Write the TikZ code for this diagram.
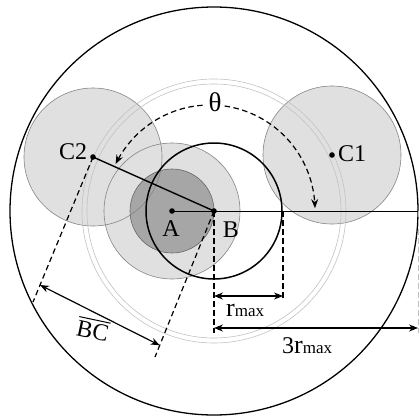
\documentclass[tikz,border=0pt]{standalone}
\usepackage{fontspec}
\setmainfont{Liberation Serif}
\usetikzlibrary{arrows.meta,calc}
\begin{document}
\begin{tikzpicture}[x=1pt,y=-1pt,
  lightfill/.style={fill=black!12},
  darkfill/.style={fill=black!35},
  diskline/.style={draw=black!48, line width=0.6pt},
  ringline/.style={draw=black!24, line width=0.6pt},
  dimdash/.style={line width=1.2pt, dash pattern=on 5.5pt off 3.5pt},
  dimarrow/.style={line width=1.2pt, {Stealth[length=9pt,width=7pt]}-{Stealth[length=9pt,width=7pt]}},
  thetaarc/.style={line width=1.2pt, dash pattern=on 5.5pt off 3.5pt, -{Stealth[length=9pt,width=7pt]}},
  lbl/.style={inner sep=0pt, font=\fontsize{24}{24}\selectfont},
  dot/.style={fill=black}]
\useasboundingbox (0,0) rectangle (419,420);
% points
\coordinate (A) at (172,211);
\coordinate (B) at (214,211);
\coordinate (C1) at (332,155);
\coordinate (C2) at (93,157);
\coordinate (E) at (418,211);
\coordinate (R1) at (283,211);
% disk fills
\fill[lightfill] (C2) circle (69);
\fill[lightfill] (C1) circle (69);
\fill[lightfill] (A) circle (68);
\fill[darkfill] (A) circle (42);
% disk outlines
\draw[diskline] (C2) circle (69);
\draw[diskline] (C1) circle (69);
\draw[diskline] (A) circle (68);
\draw[diskline, draw=black!60] (A) circle (42);
% ring of candidate positions
\draw[ringline] (B) circle (127);
\draw[ringline] (B) circle (132);
% outer circle and r_max circle
\draw[line width=1.3pt] (B) circle (204);
\draw[line width=1.5pt] (B) circle (68);
% lines
\draw[line width=0.8pt] (A) -- (E);
\draw[line width=1.4pt] (C2) -- (B);
% BC dimension
\coordinate (Bd) at (155,357);
\coordinate (C2d) at (33,302);
\draw[dimdash] (B) -- (Bd);
\draw[dimdash] (C2) -- (C2d);
\coordinate (bcL) at ($(C2)!0.883!(C2d)$);
\coordinate (bcR) at ($(B)!0.92!(Bd)$);
\draw[dimarrow] (bcL) -- (bcR);
\node[lbl, rotate=-12] (bc) at (93,329) {\vbox{\hrule height 1pt\kern2.5pt\hbox{BC}}};
% r_max and 3 r_max dimensions
\coordinate (Bv) at (214,333);
\coordinate (R1v) at (283,300);
\coordinate (Ev) at (418,333);
\draw[dimdash] (B) -- (Bv);
\draw[dimdash] (R1) -- (R1v);
\draw[dimdash, draw=black!25, line width=0.7pt] (E) -- (Ev);
\coordinate (rL) at (214,296);
\coordinate (rR) at (283,296);
\coordinate (tL) at (214,328);
\coordinate (tR) at (418,328);
\draw[dimarrow] (rL) -- (rR);
\draw[dimarrow] (tL) -- (tR);
\node[lbl, anchor=base west] (rmax) at (226,316) {\fontsize{26}{26}\selectfont r\fontsize{17}{17}\selectfont max};
\node[lbl, anchor=base west] (trmax) at (282,353) {3\fontsize{26}{26}\selectfont r\fontsize{17}{17}\selectfont max};
% theta arcs
\node[lbl, font=\fontsize{27}{27}\selectfont] (theta) at (215,102) {θ};
\draw[thetaarc] plot[domain=-82:-1, samples=50] ({210+105*cos(\x)},{210+105*sin(\x)});
\draw[thetaarc] plot[domain=-94:-154, samples=50] ({210+105*cos(\x)},{210+105*sin(\x)});
% dots and labels
\fill[dot] (A) circle (2.8);
\fill[dot] (B) circle (2.8);
\fill[dot] (C1) circle (2.8);
\fill[dot] (C2) circle (2.8);
\node[lbl, anchor=base] (la) at (171,236) {A};
\node[lbl, anchor=base] (lb) at (231,237) {B};
\node[lbl, anchor=base west] (lc2) at (59,159) {C2};
\node[lbl, anchor=base west] (lc1) at (338,161) {C1};
\end{tikzpicture}
\end{document}
